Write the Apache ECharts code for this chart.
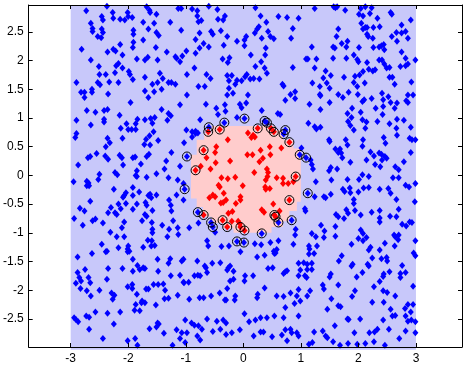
<!DOCTYPE html>
<html><head><meta charset="utf-8">
<script src="https://cdn.jsdelivr.net/npm/echarts@6/dist/echarts.min.js"></script>
<style>html,body{margin:0;padding:0;background:#fff}#c{width:470px;height:372px}</style>
</head><body><div id="c"></div>
<script>
const xTicks=[-3,-2,-1,0,1,2,3];
const yTicks=[-2.5,-2,-1.5,-1,-0.5,0,0.5,1,1.5,2,2.5];
const xRange=[-3.73,3.80];
const yRange=[-2.99,2.97];
const bandX=[-3,3];
const bandY=[-3.04,2.97];
const regionOutline=[[-0.55,0.86],[0.55,0.86],[0.55,0.79],[0.69,0.79],[0.69,0.62],[0.87,0.62],[0.87,0.47],[1.0,0.47],[1.0,-0.46],[0.93,-0.46],[0.93,-0.62],[0.80,-0.62],[0.80,-0.80],[0.69,-0.80],[0.69,-0.90],[0.49,-0.90],[0.49,-1.0],[-0.17,-1.0],[-0.17,-0.92],[-0.35,-0.92],[-0.35,-0.83],[-0.55,-0.83],[-0.55,-0.72],[-0.70,-0.72],[-0.70,-0.55],[-0.81,-0.55],[-0.81,-0.40],[-0.91,-0.40],[-0.91,0.36],[-0.81,0.36],[-0.81,0.62],[-0.68,0.62],[-0.68,0.74],[-0.55,0.74]];

const blueNW=[[-2.73,2.87],[-2.37,2.95],[-2.27,2.84],[-2.01,2.84],[-1.68,2.94],[-1.63,2.88],[-1.62,2.84],[-1.51,2.81],[-1.13,2.91],[-1.08,2.91],[-2.46,2.77],[-2.44,2.71],[-2.26,2.74],[-2.14,2.72],[-2.06,2.71],[-2.00,2.77],[-1.93,2.75],[-1.74,2.67],[-1.55,2.65],[-1.27,2.67],[-2.65,2.65],[-2.62,2.56],[-2.62,2.51],[-2.46,2.55],[-2.44,2.49],[-1.91,2.53],[-1.91,2.46],[-1.65,2.55],[-1.51,2.49],[-1.47,2.44],[-1.08,2.53],[-2.53,2.42],[-2.47,2.40],[-1.91,2.32],[-1.74,2.36],[-2.14,2.28],[-2.26,2.20],[-2.22,2.17],[-2.36,2.15],[-2.10,2.10],[-1.92,2.23],[-1.52,2.23],[-1.33,2.15],[-1.18,2.07],[-1.16,2.04],[-1.06,2.08],[-1.10,1.98],[-2.81,2.20],[-2.65,2.01],[-1.85,2.03],[-1.71,2.01],[-1.66,2.06],[-1.49,2.01],[-2.51,1.90],[-2.21,1.91],[-2.17,1.95],[-2.10,1.87],[-1.99,1.81],[-1.97,1.76],[-2.23,1.79],[-2.50,1.76],[-2.39,1.76],[-1.71,1.71],[-1.45,1.78],[-1.40,1.69],[-2.90,1.62],[-2.53,1.62],[-2.49,1.58],[-2.33,1.63],[-2.17,1.62],[-1.92,1.67],[-1.58,1.59],[-1.49,1.62],[-1.30,1.62],[-1.25,1.62],[-1.18,1.59],[-1.42,1.50],[-2.82,1.45],[-2.76,1.45],[-2.76,1.36],[-2.63,1.50],[-2.63,1.45],[-2.35,1.42],[-1.71,1.47],[-1.55,1.46],[-1.65,1.36],[-1.96,1.27],[-1.10,1.23],[-2.72,1.13],[-2.57,1.10],[-2.42,1.13],[-2.36,1.15],[-2.15,1.05],[-1.84,0.98],[-1.71,0.97],[-1.61,0.99],[-1.54,1.01],[-1.42,1.15],[-1.30,1.08],[-1.26,1.04],[-1.32,0.96],[-2.90,0.96],[-2.42,0.98],[-2.42,0.93],[-2.65,0.88],[-2.13,0.82],[-2.03,0.90],[-1.87,0.90],[-2.00,0.80],[-1.94,0.80],[-1.87,0.80],[-1.58,0.91],[-1.56,0.76],[-2.90,0.73],[-2.92,0.66],[-2.10,0.65],[-1.63,0.69],[-1.69,0.63],[-1.48,0.61],[-2.36,0.65],[-2.32,0.57],[-2.39,0.50],[-1.72,0.54],[-1.62,0.53],[-1.03,0.57],[-2.55,0.38],[-2.70,0.31],[-2.66,0.33],[-2.40,0.34],[-2.35,0.28],[-2.15,0.35],[-2.11,0.31],[-2.09,0.18],[-1.92,0.31],[-1.88,0.32],[-1.78,0.20],[-1.68,0.33],[-1.64,0.37],[-1.25,0.40],[-1.34,0.25],[-1.10,0.16],[-2.87,0.18],[-1.37,0.11],[-2.50,0.02],[-2.23,0.05],[-2.19,0.01],[-1.85,0.08],[-1.87,0.00],[-1.51,0.03]];

const blueN=[[-0.89,2.90],[-0.80,2.87],[-0.80,2.78],[-0.60,2.95],[-0.45,2.89],[0.21,2.92],[-0.32,2.78],[-0.44,2.72],[-0.35,2.71],[-0.78,2.68],[-0.73,2.70],[0.30,2.78],[0.61,2.77],[0.76,2.75],[0.96,2.74],[0.40,2.67],[0.27,2.59],[0.24,2.55],[0.86,2.56],[-0.56,2.51],[-0.53,2.46],[-0.76,2.48],[-0.39,2.52],[-0.28,2.42],[0.05,2.42],[0.02,2.36],[0.20,2.48],[0.32,2.39],[0.43,2.51],[0.47,2.42],[0.53,2.38],[0.83,2.39],[-0.83,2.37],[-0.69,2.30],[-0.76,2.22],[-0.60,2.24],[-0.34,2.27],[-0.11,2.34],[0.02,2.26],[0.39,2.22],[-0.99,2.17],[-0.83,2.13],[-0.36,2.03],[-0.24,2.05],[-0.27,1.97],[0.13,2.10],[0.38,2.10],[0.31,1.98],[0.21,1.90],[0.37,1.87],[0.41,1.78],[0.86,1.88],[-0.85,1.87],[-0.98,1.76],[-0.64,1.76],[-0.57,1.69],[-0.28,1.74],[-0.20,1.74],[-0.11,1.66],[-0.03,1.65],[0.06,1.76],[0.03,1.72],[0.12,1.68],[0.18,1.69],[0.28,1.68],[-0.25,1.65],[-0.78,1.55],[-0.67,1.55],[-0.14,1.59],[0.68,1.59],[0.70,1.56],[-0.25,1.52],[-0.18,1.43],[-0.28,1.40],[0.08,1.40],[-0.98,1.40],[0.82,1.41],[0.90,1.46],[0.90,1.34],[-0.75,0.97],[-0.11,1.01],[-0.44,1.06],[-0.31,1.12],[-0.47,1.17],[-0.65,1.24],[-0.32,1.23],[-0.06,1.24],[-0.03,1.18],[0.05,1.26],[0.32,1.13],[0.60,1.08],[0.64,1.06],[0.73,1.31],[-0.99,0.79],[-0.89,0.76],[-0.83,0.77],[-0.79,0.74],[-0.89,0.67],[-0.83,0.73],[1.01,0.48]];

const blueNE=[[1.24,2.91],[1.57,2.94],[1.60,2.92],[1.63,2.94],[1.77,2.88],[2.04,2.91],[2.12,2.94],[2.23,2.92],[2.01,2.81],[2.08,2.78],[2.20,2.82],[2.56,2.84],[2.58,2.81],[2.33,2.74],[2.91,2.71],[2.05,2.65],[2.12,2.58],[2.08,2.55],[2.15,2.58],[2.26,2.58],[2.37,2.59],[2.75,2.62],[1.65,2.55],[1.62,2.42],[2.15,2.46],[2.17,2.42],[2.25,2.39],[2.58,2.42],[2.66,2.49],[2.75,2.48],[2.82,2.51],[2.86,2.39],[2.67,2.34],[1.81,2.34],[1.71,2.30],[1.79,2.24],[1.19,2.24],[1.56,2.24],[1.59,2.22],[2.01,2.23],[2.26,2.23],[2.36,2.24],[2.40,2.26],[2.44,2.28],[2.45,2.19],[2.75,2.15],[1.09,2.03],[1.12,2.03],[1.27,2.03],[1.56,2.04],[1.79,2.04],[1.92,2.10],[1.98,2.02],[2.00,1.98],[2.15,1.97],[2.36,2.01],[2.41,2.01],[2.45,1.94],[2.49,1.87],[2.54,1.88],[2.82,2.04],[2.99,2.01],[2.73,1.90],[2.82,1.91],[2.86,1.94],[1.24,1.87],[1.43,1.82],[1.52,1.74],[1.39,1.70],[1.75,1.71],[1.94,1.73],[2.02,1.75],[2.08,1.81],[2.18,1.85],[2.25,1.82],[2.29,1.84],[2.54,1.71],[2.59,1.71],[1.20,1.61],[1.45,1.61],[1.33,1.55],[1.50,1.52],[1.92,1.62],[1.98,1.55],[2.11,1.61],[2.63,1.59],[2.92,1.63],[1.33,1.41],[1.34,1.39],[1.65,1.41],[1.73,1.36],[1.83,1.45],[1.99,1.41],[2.10,1.32],[2.07,1.29],[2.23,1.34],[2.41,1.43],[2.52,1.37],[2.43,1.32],[2.56,1.27],[2.67,1.26],[2.83,1.30],[2.86,1.27],[2.86,1.40],[2.95,1.40],[1.15,1.24],[1.50,1.27],[1.34,1.15],[1.89,1.17],[2.04,1.10],[2.30,1.17],[2.43,1.20],[2.63,1.17],[2.42,1.06],[1.81,1.08],[1.88,1.01],[1.82,0.94],[2.07,0.97],[2.14,0.93],[2.33,0.94],[2.54,0.90],[2.67,0.98],[2.79,0.96],[1.13,0.91],[1.24,0.85],[1.27,0.81],[1.34,0.84],[1.86,0.87],[1.92,0.79],[2.12,0.82],[2.66,0.82],[2.91,0.84],[2.44,0.66],[2.47,0.56],[2.67,0.70],[2.89,0.65],[2.93,0.62],[2.99,0.62],[1.49,0.62],[1.50,0.59],[1.78,0.62],[1.81,0.53],[2.08,0.62],[2.07,0.51],[1.60,0.46],[1.68,0.46],[1.70,0.39],[1.72,0.31],[1.65,0.40],[2.21,0.41],[2.27,0.34],[2.36,0.39],[2.40,0.37],[2.46,0.33],[2.49,0.30],[2.41,0.27],[2.14,0.27],[1.86,0.23],[1.17,0.27],[1.19,0.19],[1.21,0.11],[1.49,0.08],[1.52,0.14],[1.63,0.11],[2.29,0.19],[2.38,0.15],[2.64,0.15],[2.70,0.10],[2.79,0.24],[2.91,0.40],[2.07,0.01]];

const blueSW=[[-2.95,-0.11],[-2.72,-0.10],[-2.69,-0.13],[-2.72,-0.18],[-2.68,-0.18],[-2.52,-0.07],[-1.85,-0.02],[-1.68,-0.03],[-1.30,-0.04],[-1.14,-0.08],[-1.04,-0.14],[-2.25,-0.24],[-2.04,-0.30],[-2.07,-0.35],[-2.09,-0.38],[-1.92,-0.21],[-1.92,-0.35],[-1.81,-0.29],[-1.65,-0.35],[-1.62,-0.33],[-1.60,-0.39],[-1.51,-0.34],[-1.29,-0.43],[-1.16,-0.34],[-1.04,-0.43],[-2.66,-0.45],[-2.30,-0.56],[-2.17,-0.50],[-2.13,-0.58],[-2.04,-0.49],[-1.92,-0.59],[-1.85,-0.50],[-1.70,-0.47],[-1.68,-0.52],[-1.58,-0.61],[-1.26,-0.52],[-1.25,-0.62],[-2.84,-0.57],[-2.76,-0.62],[-2.35,-0.65],[-2.23,-0.65],[-2.20,-0.68],[-1.71,-0.68],[-1.68,-0.71],[-2.94,-0.75],[-2.79,-0.87],[-2.62,-0.79],[-2.57,-0.76],[-2.44,-0.83],[-2.07,-0.81],[-2.11,-0.91],[-1.76,-0.79],[-1.59,-0.82],[-1.41,-0.87],[-1.22,-0.79],[-1.14,-0.91],[-1.29,-0.94],[-1.13,-1.03],[-1.32,-1.07],[-1.58,-0.94],[-1.58,-1.00],[-2.31,-0.99],[-2.20,-1.07],[-2.07,-1.07],[-2.46,-1.20],[-2.39,-1.33],[-2.37,-1.32],[-2.17,-1.26],[-2.00,-1.23],[-2.01,-1.28],[-1.98,-1.32],[-2.01,-1.33],[-1.74,-1.25],[-1.66,-1.13],[-1.59,-1.14],[-1.60,-1.23],[-1.54,-1.22],[-1.49,-1.46],[-1.27,-1.45],[-1.30,-1.53],[-1.07,-1.49],[-1.04,-1.46],[-2.88,-1.42],[-2.63,-1.36],[-1.92,-1.46],[-2.35,-1.62],[-2.10,-1.62],[-1.92,-1.67],[-1.84,-1.57],[-1.80,-1.64],[-1.74,-1.61],[-1.71,-1.62],[-1.48,-1.67],[-1.26,-1.75],[-1.10,-1.74],[-1.04,-1.86],[-2.75,-1.64],[-2.88,-1.69],[-2.85,-1.78],[-2.82,-1.84],[-2.91,-1.88],[-2.69,-1.78],[-2.66,-1.87],[-2.83,-1.97],[-2.72,-2.01],[-2.65,-2.10],[-2.50,-2.00],[-2.37,-1.81],[-2.29,-2.05],[-2.24,-2.09],[-2.27,-2.16],[-2.01,-1.94],[-1.93,-1.90],[-1.93,-1.97],[-1.85,-2.07],[-1.69,-1.98],[-1.65,-1.98],[-1.56,-1.90],[-1.48,-1.90],[-1.39,-1.89],[-1.36,-2.00],[-1.37,-2.15],[-1.30,-2.14],[-1.14,-2.09],[-1.03,-1.87],[-1.71,-2.22],[-1.77,-2.22],[-1.87,-2.25],[-1.80,-2.36],[-1.76,-2.19],[-1.52,-2.26],[-1.89,-2.35],[-2.94,-2.48],[-2.91,-2.51],[-2.87,-2.55],[-2.73,-2.45],[-2.68,-2.47],[-2.57,-2.38],[-2.36,-2.40],[-2.14,-2.38],[-2.25,-2.59],[-2.68,-2.68],[-1.63,-2.67],[-1.49,-2.57],[-1.47,-2.59],[-1.51,-2.64],[-1.38,-2.75],[-1.16,-2.69],[-1.07,-2.74],[-1.01,-2.52],[-2.44,-2.84],[-2.01,-2.88],[-1.88,-2.84],[-1.84,-2.96],[-1.23,-2.96],[-1.10,-2.84],[-1.01,-2.91]];

const blueS=[[-0.94,-0.91],[-0.78,-0.83],[-0.49,-0.99],[-0.63,-1.14],[-0.61,-1.23],[-0.38,-1.24],[-0.25,-1.23],[-0.05,-1.33],[0.20,-1.19],[0.31,-1.21],[0.47,-1.17],[0.61,-1.14],[0.53,-1.32],[0.56,-1.35],[0.58,-1.29],[0.54,-1.36],[0.24,-1.42],[0.37,-1.39],[0.90,-1.04],[0.91,-0.94],[0.87,-1.20],[-0.80,-1.49],[-0.67,-1.58],[-0.65,-1.61],[-0.54,-1.53],[-0.40,-1.52],[-0.26,-1.61],[-0.23,-1.58],[-0.28,-1.65],[-0.17,-1.67],[0.03,-1.75],[0.17,-1.75],[0.02,-1.84],[-0.17,-1.81],[-0.23,-1.84],[0.43,-1.62],[0.51,-1.61],[0.70,-1.71],[0.73,-1.68],[0.76,-1.66],[0.96,-1.53],[0.99,-1.65],[0.96,-1.75],[-0.85,-1.75],[-0.79,-1.74],[-0.75,-1.75],[-0.63,-1.69],[-0.95,-1.86],[-0.76,-2.13],[-0.69,-2.13],[-0.56,-2.10],[-0.41,-2.05],[-0.32,-2.17],[-0.30,-2.17],[-0.15,-2.17],[-0.14,-2.10],[-0.28,-1.97],[0.25,-2.07],[0.24,-2.13],[0.37,-1.96],[0.58,-2.10],[0.70,-2.11],[0.82,-2.05],[0.96,-1.99],[0.93,-2.10],[0.89,-2.23],[0.99,-2.19],[-0.94,-2.16],[0.73,-2.30],[0.02,-2.41],[-0.63,-2.50],[-0.46,-2.54],[-0.35,-2.52],[-0.30,-2.57],[0.10,-2.55],[0.21,-2.52],[0.30,-2.48],[0.41,-2.48],[0.54,-2.45],[0.70,-2.48],[0.96,-2.45],[-0.90,-2.57],[-0.85,-2.61],[-0.78,-2.62],[-0.72,-2.68],[-0.98,-2.74],[-0.80,-2.80],[-0.75,-2.87],[-0.53,-2.72],[-0.40,-2.68],[-0.30,-2.77],[-0.20,-2.74],[-0.06,-2.69],[0.18,-2.80],[0.30,-2.73],[0.35,-2.73],[0.50,-2.81],[0.67,-2.78],[0.73,-2.69],[0.82,-2.68],[0.84,-2.74],[0.76,-2.88],[0.93,-2.74],[0.96,-2.80]];

const blueSE=[[1.26,-0.11],[1.53,-0.08],[1.81,-0.07],[2.01,-0.07],[2.18,-0.02],[2.60,-0.04],[2.70,-0.04],[2.82,-0.17],[2.88,-0.20],[2.99,-0.14],[1.24,-0.37],[1.40,-0.37],[1.43,-0.39],[1.52,-0.33],[1.73,-0.24],[1.76,-0.28],[1.85,-0.22],[1.86,-0.30],[2.00,-0.29],[2.09,-0.22],[2.18,-0.21],[2.37,-0.24],[2.52,-0.23],[2.56,-0.31],[1.92,-0.42],[1.92,-0.49],[2.66,-0.42],[2.98,-0.46],[1.07,-0.58],[1.08,-0.62],[1.61,-0.68],[1.65,-0.72],[1.75,-0.75],[1.79,-0.60],[1.82,-0.66],[1.94,-0.61],[2.04,-0.69],[2.23,-0.64],[2.37,-0.61],[2.37,-0.74],[2.37,-0.81],[2.55,-0.71],[2.66,-0.72],[2.70,-0.59],[2.89,-0.81],[2.93,-0.82],[2.76,-0.85],[2.83,-0.88],[1.35,-0.87],[1.41,-0.97],[1.19,-1.01],[1.26,-1.07],[1.40,-1.08],[1.60,-0.89],[1.60,-1.06],[2.04,-0.95],[2.08,-1.01],[2.00,-1.10],[2.08,-1.14],[2.14,-1.08],[1.88,-1.20],[2.21,-1.25],[2.18,-1.30],[2.37,-1.30],[2.46,-1.18],[2.62,-1.04],[2.64,-1.07],[2.70,-1.04],[2.69,-1.12],[2.63,-1.23],[2.99,-1.14],[2.96,-1.35],[2.99,-1.40],[1.14,-1.23],[1.15,-1.28],[1.28,-1.23],[1.14,-1.37],[1.23,-1.36],[1.71,-1.40],[1.66,-1.49],[1.90,-1.55],[1.88,-1.58],[2.16,-1.55],[2.18,-1.58],[2.24,-1.44],[2.40,-1.45],[2.49,-1.43],[2.50,-1.49],[1.05,-1.52],[1.11,-1.55],[1.19,-1.53],[1.11,-1.64],[1.19,-1.64],[1.52,-1.72],[1.50,-1.77],[1.97,-1.77],[2.07,-1.69],[2.44,-1.72],[2.43,-1.76],[2.54,-1.68],[2.73,-1.71],[2.73,-1.78],[2.82,-1.69],[2.76,-1.57],[1.07,-1.75],[1.10,-1.78],[1.65,-1.91],[1.38,-1.91],[1.40,-1.98],[1.94,-2.01],[1.89,-2.11],[2.27,-1.94],[2.37,-1.85],[2.43,-2.01],[2.50,-2.04],[2.64,-2.10],[2.95,-1.93],[1.16,-2.01],[1.11,-2.10],[1.53,-2.15],[1.65,-2.27],[1.69,-2.29],[1.46,-2.33],[2.24,-2.21],[2.44,-2.21],[2.56,-2.33],[2.64,-2.44],[2.81,-2.32],[2.86,-2.25],[2.95,-2.25],[2.91,-2.38],[2.82,-2.45],[2.92,-2.52],[1.83,-2.51],[1.81,-2.50],[2.03,-2.50],[2.43,-2.52],[2.59,-2.45],[1.59,-2.62],[1.93,-2.74],[2.19,-2.74],[2.28,-2.73],[2.33,-2.68],[2.53,-2.68],[2.82,-2.71],[2.99,-2.74],[1.38,-2.71],[1.43,-2.80],[1.46,-2.83],[1.23,-2.73],[1.20,-2.91],[1.14,-2.94],[1.56,-2.90],[1.68,-2.96],[1.82,-2.93],[1.98,-2.94],[2.12,-2.93],[2.27,-2.90],[2.46,-2.96],[2.71,-2.84],[2.86,-2.54],[2.99,-2.55]];

const redPoints=[[-0.27,0.62],[-0.47,0.50],[-0.64,0.31],[-0.49,0.40],[-0.74,0.16],[-0.57,0.11],[-0.48,0.22],[-0.23,0.25],[0.07,0.36],[0.16,0.36],[0.17,0.70],[0.14,0.66],[0.20,0.67],[0.30,0.44],[0.46,0.50],[0.66,0.48],[0.47,0.36],[0.28,0.24],[0.34,0.30],[0.41,0.11],[0.43,0.05],[0.42,-0.02],[0.58,-0.04],[0.69,-0.05],[0.19,0.05],[-0.38,-0.04],[-0.27,-0.06],[-0.14,-0.03],[-0.43,-0.17],[-0.41,-0.20],[-0.01,-0.18],[0.38,-0.20],[0.39,-0.24],[0.46,-0.23],[0.69,-0.14],[0.78,-0.14],[0.87,-0.11],[-0.34,-0.31],[-0.53,-0.34],[-0.49,-0.37],[-0.59,-0.39],[-0.35,-0.47],[-0.39,-0.48],[-0.30,-0.43],[-0.13,-0.49],[-0.05,-0.37],[-0.05,-0.43],[0.52,-0.50],[0.63,-0.62],[0.32,-0.60],[0.36,-0.64],[-0.19,-0.63],[-0.26,-0.66],[-0.20,-0.80],[-0.09,-0.80],[-0.06,-0.84],[0.39,-0.08],[0.08,0.74]];

const svBlue=[[-0.60,0.84],[-0.33,0.92],[0.02,0.99],[0.37,0.95],[0.41,0.92],[0.73,0.79],[0.70,0.72],[0.98,0.36],[1.09,0.31],[-0.98,0.33],[-1.02,-0.24],[1.12,-0.31],[-0.79,-0.64],[-0.56,-0.82],[-0.53,-0.90],[-0.11,-1.15],[0.01,-1.17],[0.32,-1.01],[0.61,-0.82],[0.84,-0.78]];
const svRed=[[-0.61,0.76],[-0.41,0.80],[0.25,0.82],[0.48,0.82],[0.53,0.76],[0.80,0.58],[-0.69,0.44],[-0.83,0.09],[0.91,-0.02],[0.80,-0.43],[-0.69,-0.69],[-0.36,-0.78],[-0.28,-0.90],[-0.05,-0.90],[0.02,-0.96],[0.56,-0.72],[0.54,-0.69]];

const chart=echarts.init(document.getElementById('c'),null,{renderer:'canvas'});
const FONT='"Liberation Sans", Arial, Helvetica, sans-serif';
function axisBase(extra){
  return Object.assign({
    type:'value', z:10, splitLine:{show:false},
    axisLine:{show:true,onZero:false,lineStyle:{color:'#000',width:1}},
  },extra);
}
const blueAll=[].concat(blueNW,blueN,blueNE,blueSW,blueS,blueSE,svBlue);
const redAll=[].concat(redPoints,svRed);
const svAll=[].concat(svBlue,svRed);
chart.setOption({
  animation:false,
  backgroundColor:'#fff',
  grid:{left:28,right:8,top:5,bottom:25,containLabel:false},
  xAxis:[
    axisBase({position:'bottom',min:xRange[0],max:xRange[1],
      axisTick:{show:true,inside:true,length:4,customValues:xTicks,lineStyle:{color:'#000'}},
      axisLabel:{show:true,customValues:xTicks,color:'#000',fontSize:12,fontFamily:FONT,margin:6}}),
    axisBase({position:'top',min:xRange[0],max:xRange[1],
      axisTick:{show:true,inside:true,length:4,customValues:xTicks,lineStyle:{color:'#000'}},
      axisLabel:{show:false}})
  ],
  yAxis:[
    axisBase({position:'left',min:yRange[0],max:yRange[1],
      axisTick:{show:true,inside:true,length:4,customValues:yTicks,lineStyle:{color:'#000'}},
      axisLabel:{show:true,customValues:yTicks,color:'#000',fontSize:12,fontFamily:FONT,margin:5}}),
    axisBase({position:'right',min:yRange[0],max:yRange[1],
      axisTick:{show:true,inside:true,length:4,customValues:yTicks,lineStyle:{color:'#000'}},
      axisLabel:{show:false}})
  ],
  series:[
    {type:'custom',clip:false,silent:true,data:[[0,0]],
      renderItem:function(params,api){
        const p0=api.coord([bandX[0],bandY[1]]);
        const p1=api.coord([bandX[1],bandY[0]]);
        return {type:'rect',shape:{x:p0[0],y:p0[1],width:p1[0]-p0[0],height:p1[1]-p0[1]},style:{fill:'#c8c8fa'}};
      }},
    {type:'custom',silent:true,data:[[0,0]],
      renderItem:function(params,api){
        return {type:'polygon',shape:{points:regionOutline.map(p=>api.coord(p))},style:{fill:'#ffcccc'}};
      }},
    {type:'scatter',data:blueAll,symbol:'diamond',symbolSize:[6,7],itemStyle:{color:'#0000ff',opacity:1},silent:true},
    {type:'scatter',data:redAll,symbol:'diamond',symbolSize:[6,7],itemStyle:{color:'#ff0000',opacity:1},silent:true},
    {type:'scatter',data:svAll,symbol:'circle',symbolSize:9,itemStyle:{color:'none',borderColor:'#000',borderWidth:1,opacity:1},silent:true}
  ]
});
</script></body></html>
